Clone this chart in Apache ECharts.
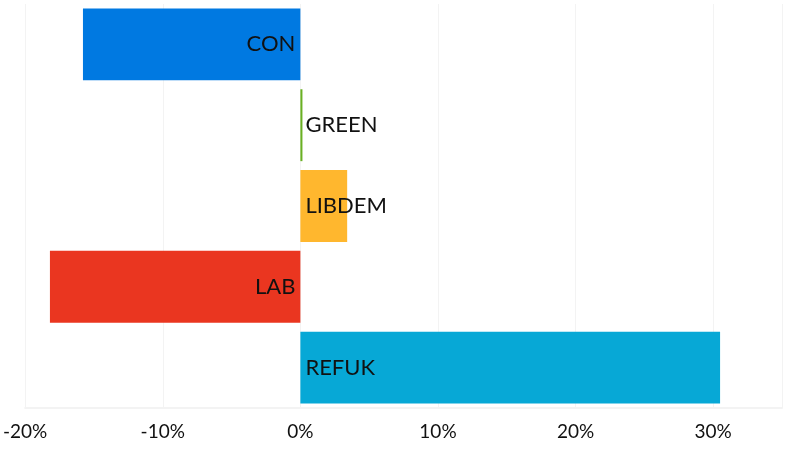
<!DOCTYPE html>
<html>
<head>
<meta charset="utf-8">
<script src="https://cdn.jsdelivr.net/npm/echarts@6/dist/echarts.min.js"></script>
<style>
  html, body { margin: 0; padding: 0; background: #fff; }
  #chart { width: 800px; height: 450px; }
</style>
</head>
<body>
<div id="chart"></div>
<script>
var parties = ["CON", "GREEN", "LIBDEM", "LAB", "REFUK"];
var changes = [-15.8, 0.15, 3.4, -18.2, 30.5];
var colors = ["#0079e1", "#6ab023", "#ffb72e", "#ea3620", "#07a8d6"];

var chart = echarts.init(document.getElementById("chart"));

var barData = changes.map(function (v, i) {
    return {
        value: v,
        itemStyle: {color: colors[i]},
        label: {position: v < 0 ? "insideRight" : "insideLeft"}
    };
});

chart.setOption({
    animation: false,
    grid: {left: 22, right: 18, top: 4, bottom: 42, containLabel: false},
    xAxis: {
        type: "value", min: -20, max: 35, interval: 10,
        axisLine: {show: true, lineStyle: {color: "#f3f3f3", width: 2}},
        axisTick: {show: false},
        splitLine: {show: true, lineStyle: {color: "#f3f3f3"}},
        axisLabel: {
            color: "#111", fontFamily: "Lato", fontSize: 19, margin: 14, showMaxLabel: false,
            formatter: function (v) { return v + "%"; }
        }
    },
    yAxis: {
        type: "category", data: parties, inverse: true,
        axisLine: {show: false}, axisTick: {show: false}, axisLabel: {show: false}
    },
    series: [{
        type: "bar", data: barData, barWidth: "89%",
        label: {
            show: true, distance: 5, color: "#111", fontFamily: "Lato", fontSize: 22,
            formatter: function (p) { return p.name; }
        }
    }]
});
</script>
</body>
</html>
